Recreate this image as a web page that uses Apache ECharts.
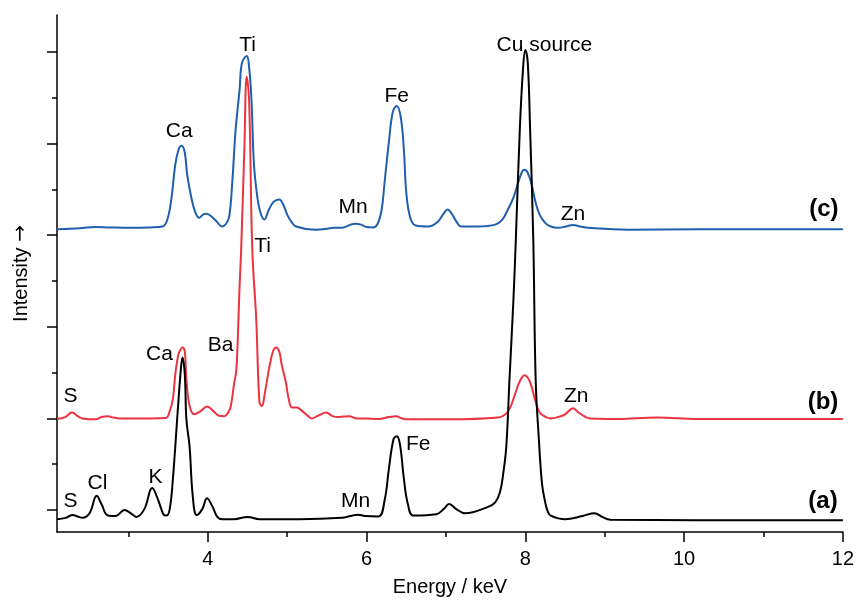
<!DOCTYPE html>
<html>
<head>
<meta charset="utf-8">
<title>XRF spectra</title>
<script src="https://cdn.jsdelivr.net/npm/echarts@6/dist/echarts.min.js"></script>
<style>
  html, body { margin: 0; padding: 0; background: #fff; }
  #chart { width: 857px; height: 602px; }
</style>
</head>
<body>
<div id="chart"></div>
<script>
// spectrum (a) - black
const energyA = [2.10,2.21,2.30,2.36,2.42,2.51,2.60,2.66,2.74,2.84,2.95,3.03,3.10,3.20,3.30,3.37,3.44,3.48,3.52,3.56,3.62,3.66,3.68,3.71,3.73,3.77,3.81,3.86,3.93,3.99,4.06,4.12,4.18,4.33,4.50,4.65,5.15,5.69,5.80,5.89,5.98,6.15,6.23,6.28,6.34,6.38,6.42,6.47,6.52,6.59,6.88,6.97,7.04,7.13,7.24,7.53,7.62,7.68,7.72,7.76,7.80,7.85,7.88,7.93,7.97,8.00,8.03,8.06,8.10,8.13,8.17,8.21,8.25,8.28,8.32,8.50,8.72,8.87,8.97,9.07,10.17,12.0]
const intensityA = [-0.20,-0.17,-0.11,-0.14,-0.17,-0.07,0.31,0.13,-0.12,-0.13,0,-0.07,-0.15,0.02,0.48,0.24,-0.09,-0.12,0.02,0.68,2.14,3.07,3.33,2.96,1.98,1.39,0.31,-0.11,0.02,0.26,0.07,-0.15,-0.20,-0.20,-0.15,-0.20,-0.20,-0.17,-0.13,-0.10,-0.13,-0.14,0.24,0.89,1.55,1.61,1.44,0.68,0.13,-0.12,-0.09,0.02,0.13,0.02,-0.07,0.07,0.17,0.39,0.78,1.39,2.85,4.60,5.90,8.30,9.61,10.04,9.78,8.30,5.90,2.85,1.55,0.57,0.17,-0.02,-0.12,-0.20,-0.13,-0.07,-0.15,-0.21,-0.22,-0.22]

// spectrum (b) - red
const energyB = [2.10,2.20,2.29,2.36,2.42,2.59,2.66,2.74,2.81,2.89,3.14,3.47,3.52,3.56,3.59,3.63,3.66,3.68,3.71,3.73,3.77,3.83,3.91,3.99,4.07,4.14,4.21,4.26,4.29,4.33,4.36,4.40,4.42,4.46,4.49,4.52,4.56,4.61,4.65,4.68,4.72,4.77,4.82,4.86,4.90,4.93,4.98,5.02,5.06,5.12,5.19,5.25,5.31,5.40,5.49,5.57,5.65,5.78,5.88,5.99,6.15,6.28,6.37,6.45,6.53,7.03,7.66,7.75,7.81,7.87,7.93,7.99,8.06,8.12,8.18,8.26,8.32,8.41,8.50,8.60,8.67,8.76,8.82,9.16,9.66,10.17,12.0]
const intensityB = [1.99,2.03,2.13,2.05,2.00,1.98,2.03,2.05,2.02,2.00,2.00,2.01,2.16,2.42,2.96,3.40,3.51,3.55,3.46,2.85,2.27,2.09,2.16,2.26,2.16,2.06,2.05,2.14,2.27,2.75,3.07,4.88,5.69,7.86,9.46,8.95,5.69,4.16,2.35,2.27,2.57,3.07,3.46,3.55,3.46,3.18,2.81,2.42,2.24,2.24,2.16,2.07,2.00,2.07,2.13,2.05,2.03,2.05,2.00,2.00,1.99,2.03,2.05,2.00,1.98,1.98,2.02,2.09,2.24,2.53,2.81,2.94,2.79,2.42,2.13,2.03,2.00,2.03,2.09,2.22,2.13,2.03,2.00,1.99,2.02,1.99,1.99]

// spectrum (c) - blue
const energyC = [2.10,2.39,2.58,2.76,3.02,3.27,3.43,3.49,3.54,3.59,3.63,3.67,3.71,3.74,3.79,3.84,3.89,3.94,3.98,4.03,4.11,4.18,4.23,4.27,4.31,4.35,4.40,4.43,4.49,4.52,4.55,4.58,4.62,4.66,4.71,4.77,4.83,4.90,4.95,5.00,5.05,5.11,5.35,5.60,5.71,5.80,5.86,5.93,6.00,6.08,6.14,6.19,6.23,6.28,6.33,6.38,6.43,6.47,6.50,6.55,6.62,6.78,6.90,6.97,7.02,7.08,7.13,7.19,7.41,7.62,7.71,7.78,7.85,7.91,7.96,7.99,8.03,8.08,8.13,8.18,8.25,8.32,8.41,8.51,8.60,8.69,8.79,9.29,10.17,12.0]
const intensityC = [6.13,6.15,6.18,6.17,6.16,6.17,6.19,6.34,6.78,7.54,7.86,7.95,7.80,7.32,6.84,6.51,6.38,6.45,6.47,6.43,6.30,6.19,6.25,6.41,7.21,8.30,9.17,9.76,9.91,9.67,8.95,7.58,6.88,6.51,6.34,6.56,6.73,6.78,6.67,6.45,6.30,6.19,6.12,6.16,6.17,6.23,6.25,6.23,6.18,6.17,6.25,6.56,7.21,8.02,8.69,8.82,8.58,7.86,6.93,6.38,6.21,6.19,6.30,6.47,6.56,6.45,6.30,6.19,6.19,6.23,6.34,6.56,6.82,7.15,7.39,7.43,7.36,7.10,6.71,6.45,6.27,6.19,6.16,6.19,6.22,6.19,6.16,6.12,6.13,6.13]

// ticks
const xMajorTicks = [4, 6, 8, 10, 12]
const xMinorTicks = [3, 5, 7, 9, 11]
const yMajorTicks = [0, 2, 4, 6, 8, 10]
const yMinorTicks = [1, 3, 5, 7, 9]

// element labels
const peakNames = ['Ti', 'Ca', 'Fe', 'Mn', 'Zn', 'Cu source', 'Ti', 'Ba', 'Ca', 'S', 'Zn', 'S', 'Cl', 'K', 'Mn', 'Fe']
const peakEnergy = [4.50, 3.64, 6.38, 5.83, 8.60, 8.24, 4.69, 4.16, 3.39, 2.27, 8.64, 2.27, 2.61, 3.34, 5.86, 6.65]
const peakIntensity = [10.15, 8.28, 9.04, 6.60, 6.45, 10.15, 5.77, 3.59, 3.40, 2.48, 2.48, 0.20, 0.59, 0.72, 0.20, 1.44]

// trace labels
const traceNames = ['(a)', '(b)', '(c)']
const traceEnergy = [11.75, 11.75, 11.76]
const traceIntensity = [0.20, 2.35, 6.56]

const FONT = '"Liberation Sans", Arial, Helvetica, sans-serif'
const X_MIN = 2.1
const X_MAX = 12
const Y_MIN = -0.479
const Y_MAX = 10.806

const zip = (xs, ys) => xs.map((x, i) => [x, ys[i]])

const chart = echarts.init(document.getElementById('chart'), null, { renderer: 'canvas' })

function spectrum(name, xs, ys, color) {
  return {
    name,
    type: 'line',
    data: zip(xs, ys),
    showSymbol: false,
    smooth: 0.4,
    lineStyle: { color, width: 2 },
    silent: true,
    z: 2
  }
}

function labels(names, xs, ys, fontSize, fontWeight) {
  return {
    type: 'scatter',
    symbolSize: 1,
    itemStyle: { color: 'rgba(0,0,0,0)' },
    silent: true,
    z: 5,
    data: names.map((n, i) => ({ name: n, value: [xs[i], ys[i]] })),
    label: {
      show: true,
      position: 'inside',
      formatter: '{b}',
      color: '#000',
      opacity: 1,
      textBorderWidth: 0,
      fontFamily: FONT,
      fontSize,
      fontWeight
    }
  }
}

const axisLine = { show: true, onZero: false, lineStyle: { color: '#000', width: 1.5 } }

const option = {
  animation: false,
  backgroundColor: '#fff',
  grid: { left: 57, right: 10, top: 15, bottom: 69 },
  xAxis: [
    {
      type: 'value',
      min: X_MIN,
      max: X_MAX,
      axisLine,
      axisTick: { show: true, customValues: xMajorTicks, length: 10, lineStyle: { color: '#000', width: 1.5 } },
      axisLabel: { show: true, customValues: xMajorTicks, color: '#000', fontSize: 20, fontFamily: FONT, margin: 17 },
      splitLine: { show: false },
      name: 'Energy / keV',
      nameLocation: 'middle',
      nameGap: 45,
      nameTextStyle: { color: '#000', fontSize: 20, fontFamily: FONT }
    },
    {
      type: 'value',
      min: X_MIN,
      max: X_MAX,
      position: 'bottom',
      axisLine: { show: false, onZero: false },
      axisTick: { show: true, customValues: xMinorTicks, length: 5, lineStyle: { color: '#000', width: 1.5 } },
      axisLabel: { show: false },
      splitLine: { show: false }
    }
  ],
  yAxis: [
    {
      type: 'value',
      min: Y_MIN,
      max: Y_MAX,
      axisLine,
      axisTick: { show: true, customValues: yMajorTicks, length: 10, lineStyle: { color: '#000', width: 1.5 } },
      axisLabel: { show: false },
      splitLine: { show: false },
      name: 'Intensity {arr|\u2192}',
      nameLocation: 'middle',
      nameGap: 26,
      nameTextStyle: {
        color: '#000',
        fontSize: 20,
        fontFamily: FONT,
        rich: { arr: { fontFamily: '"DejaVu Sans"', fontSize: 20, color: '#000' } }
      }
    },
    {
      type: 'value',
      min: Y_MIN,
      max: Y_MAX,
      position: 'left',
      axisLine: { show: false, onZero: false },
      axisTick: { show: true, customValues: yMinorTicks, length: 5, lineStyle: { color: '#000', width: 1.5 } },
      axisLabel: { show: false },
      splitLine: { show: false }
    }
  ],
  series: [
    spectrum('c', energyC, intensityC, '#1f5fae'),
    spectrum('b', energyB, intensityB, '#ee3340'),
    spectrum('a', energyA, intensityA, '#000000'),
    labels(peakNames, peakEnergy, peakIntensity, 21, 'normal'),
    labels(traceNames, traceEnergy, traceIntensity, 24, 'bold')
  ]
}

chart.setOption(option)
</script>
</body>
</html>
